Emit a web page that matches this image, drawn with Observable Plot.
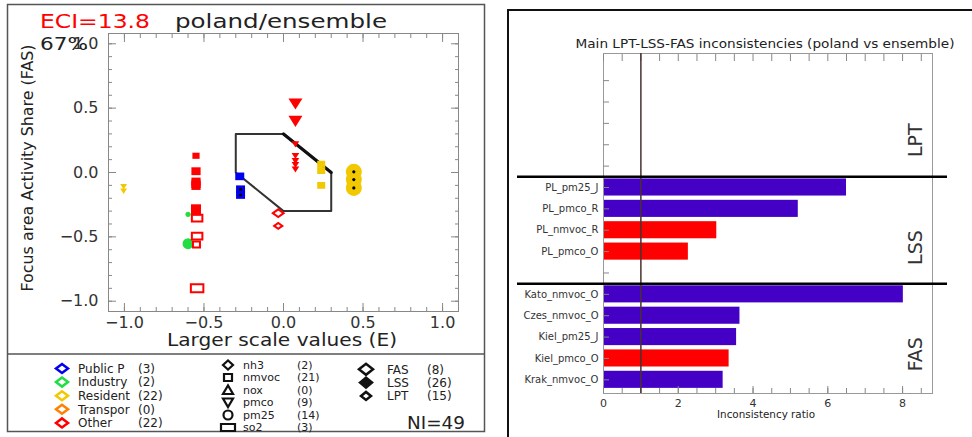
<!DOCTYPE html>
<html><head><meta charset="utf-8">
<script src="https://cdn.jsdelivr.net/npm/d3@7"></script>
<script src="https://cdn.jsdelivr.net/npm/@observablehq/plot@0.6"></script>
<style>
body{margin:0;background:#fff;}
#root{position:relative;width:972px;height:437px;overflow:hidden;font-family:"DejaVu Sans",sans-serif;background:#fff;}
#root > *{position:absolute;}
</style></head><body><div id="root"></div>
<script>
// ---------- legend data ----------
const sectors = ["Public P","Industry","Resident","Transpor","Other"];
const sectorCounts = [3,2,22,0,22];
const pollutants = ["nh3","nmvoc","nox","pmco","pm25","so2"];
const pollutantCounts = [2,21,0,9,14,3];
const types = ["FAS","LSS","LPT"];
const typeCounts = [8,26,15];
const nIndicators = 49;
const eciValue = 13.8;
const fasShareLabel = "67%";

// ---------- scatter data (left panel) ----------
const pointSector = ["Resident","Resident","Resident","Resident","Resident","Resident","Resident","Resident",
  "Other","Other","Other","Other","Other","Other","Other","Other","Other","Other","Other","Other","Other",
  "Other","Other","Other","Other","Other","Other","Other",
  "Industry","Industry","Public P","Public P","Public P"];
const pointPollutant = ["pmco","pmco","nmvoc","nmvoc","nmvoc","pm25","pm25","pm25",
  "nmvoc","nmvoc","nmvoc","nmvoc","nmvoc","nmvoc","nmvoc","so2","so2","nmvoc","so2","nh3","nh3",
  "pmco","pmco","pmco","pmco","pmco","pmco","pmco",
  "pm25","pm25","nmvoc","nmvoc","nmvoc"];
const pointType = ["LSS","LSS","LSS","LSS","LSS","LPT","LPT","LPT",
  "LSS","LSS","LSS","LSS","LSS","LSS","LSS","FAS","FAS","FAS","FAS","FAS","FAS",
  "LSS","LSS","LSS","LSS","LSS","LSS","LSS",
  "LSS","LSS","LSS","LPT","LPT"];
const pointE = [-1.005,-1.005,0.237,0.237,0.237,0.442,0.442,0.442,
  -0.55,-0.55,-0.55,-0.55,-0.55,-0.55,-0.55,-0.543,-0.543,-0.547,-0.543,-0.033,-0.033,
  0.075,0.075,0.075,0.075,0.075,0.075,0.075,
  -0.60,-0.60,-0.275,-0.27,-0.27];
const pointFAS = [-0.11,-0.145,0.065,0.015,-0.10,0.005,-0.055,-0.12,
  0.13,0.01,-0.07,-0.09,-0.105,-0.28,-0.30,-0.355,-0.495,-0.56,-0.90,-0.316,-0.415,
  0.535,0.40,0.22,0.13,0.09,0.06,0.025,
  -0.325,-0.553,-0.03,-0.13,-0.175];
const pointWeight = [3.4,3.4,4,4,4,8,8,8,
  3.6,4.6,4.6,4.6,4.6,5,5,4.2,4.2,3.5,5,4.5,3.4,
  7,7,3.8,3.8,3.8,3.8,3.8,
  2.6,5.5,4.5,4.5,4.5];

// target polygon
const polyE = [-0.3,0,0.3,0.3,0,-0.3,-0.3];
const polyFAS = [0.3,0.3,0,-0.3,-0.3,0,0.3];

// ---------- bar data (right panel) ----------
const sectionNames = ["LPT","LSS","FAS"];
const sectionSlots = [5,5,5];
const barLabels = ["PL_pm25_J","PL_pmco_R","PL_nmvoc_R","PL_pmco_O","Kato_nmvoc_O","Czes_nmvoc_O","Kiel_pm25_J","Kiel_pmco_O","Krak_nmvoc_O"];
const barValues = [6.5,5.21,3.03,2.27,8.02,3.65,3.56,3.36,3.2];
const barSection = ["LSS","LSS","LSS","LSS","FAS","FAS","FAS","FAS","FAS"];
const barSign = ["+","+","-","-","+","+","+","-","+"];
const ratioTicks = [0,2,4,6,8];

// ---------- styles ----------
const sectorColors = ["#0000ee","#22dd44","#f2c800","#ff8000","#ff0000"];
const font = "DejaVu Sans, sans-serif";

// custom symbols (r = half width)
const rad = s => Math.sqrt(s / Math.PI);
const symbols = {
  nh3: {draw(c,s){const r=rad(s); c.moveTo(-1.2*r,0); c.lineTo(0,-0.85*r); c.lineTo(1.2*r,0); c.lineTo(0,0.85*r); c.closePath();}},
  nmvoc: {draw(c,s){const r=rad(s); c.rect(-r,-0.85*r,2*r,1.7*r);}},
  nox: {draw(c,s){const r=rad(s); c.moveTo(-r,0.75*r); c.lineTo(r,0.75*r); c.lineTo(0,-0.85*r); c.closePath();}},
  pmco: {draw(c,s){const r=rad(s); c.moveTo(-r,-0.75*r); c.lineTo(r,-0.75*r); c.lineTo(0,0.85*r); c.closePath();}},
  pm25: {draw(c,s){const r=rad(s); c.moveTo(r,0); c.arc(0,0,r,0,2*Math.PI);}},
  so2: {draw(c,s){const r=rad(s); c.rect(-1.25*r,-0.8*r,2.5*r,1.6*r);}}
};

const points = pointE.map((e,i)=>({E:e, FAS:pointFAS[i], sector:pointSector[i], pollutant:pointPollutant[i], type:pointType[i], w:pointWeight[i]}));
const poly = polyE.map((e,i)=>({E:e, FAS:polyFAS[i]}));

const major = [-1,-0.5,0,0.5,1];
const minor = d3.range(-10,11).map(i=>i/10);
const fmt = d3.format(".1f");
const tickStroke = "#888";

const left = Plot.plot({
  width: 480, height: 354,
  marginLeft: 108, marginRight: 22, marginTop: 33, marginBottom: 43,
  x: {domain: [-1.1, 1.1]},
  y: {domain: [-1.08, 1.08]},
  r: {type: "linear", domain: [0, 10], range: [0, 10]},
  color: {domain: sectors, range: sectorColors},
  symbol: {domain: pollutants, range: pollutants.map(p => symbols[p])},
  style: {background: "transparent", fontFamily: font, color: "#333", overflow: "visible"},
  marks: [
    Plot.frame({stroke: tickStroke}),
    Plot.axisX({anchor:"bottom", ticks: minor, tickSize:-4, tickFormat: ()=>"", stroke: tickStroke, label: null}),
    Plot.axisX({anchor:"bottom", ticks: major, tickSize:-8, tickPadding:13, tickFormat: fmt, stroke: tickStroke, fontSize: 16, label: null}),
    Plot.axisX({anchor:"top", ticks: minor, tickSize:-4, tickFormat: ()=>"", stroke: tickStroke, label: null}),
    Plot.axisX({anchor:"top", ticks: major, tickSize:-8, tickFormat: ()=>"", stroke: tickStroke, label: null}),
    Plot.axisY({anchor:"left", ticks: minor, tickSize:-4, tickFormat: ()=>"", stroke: tickStroke, label: null}),
    Plot.axisY({anchor:"left", ticks: major, tickSize:-8, tickPadding:18, tickFormat: fmt, stroke: tickStroke, fontSize: 16, label: null}),
    Plot.axisY({anchor:"right", ticks: minor, tickSize:-4, tickFormat: ()=>"", stroke: tickStroke, label: null}),
    Plot.axisY({anchor:"right", ticks: major, tickSize:-8, tickFormat: ()=>"", stroke: tickStroke, label: null}),
    Plot.line(poly, {x:"E", y:"FAS", stroke:"#333", strokeWidth:2}),
    Plot.line(poly.slice(1,3), {x:"E", y:"FAS", stroke:"#111", strokeWidth:3.2}),
    Plot.dot(points.filter(d=>d.type!=="FAS"), {x:"E", y:"FAS", r:"w", symbol:"pollutant", fill:"sector", stroke:"none"}),
    Plot.dot(points.filter(d=>d.type==="FAS"), {x:"E", y:"FAS", r:"w", symbol:"pollutant", stroke:"sector", fill:"none", strokeWidth:2}),
    Plot.dot(points.filter(d=>d.type==="LPT"), {x:"E", y:"FAS", r:1.6, fill:"black"})
  ]
});

// right panel data table
let start = 1;
const sectionInfo = sectionNames.map((n,i)=>{const s=start; start += sectionSlots[i]; return {name:n, start:s, center:s+(sectionSlots[i]-1)/2};});
const sectionStart = Object.fromEntries(sectionInfo.map(d=>[d.name,d.start]));
const seen = {};
const bars = barLabels.map((l,i)=>{const sec=barSection[i]; seen[sec]=(seen[sec]||0); const row=sectionStart[sec]+seen[sec]++; return {label:l, value:barValues[i], sign:barSign[i], row};});
const rowLabel = Object.fromEntries(bars.map(d=>[d.row,d.label]));
const rowTicks = d3.range(1, start);
const seps = sectionInfo.slice(1).map(d=>d.start-0.5);
const minorR = d3.range(0, 18).map(i=>i/2);

const right = Plot.plot({
  width: 472, height: 437,
  marginLeft: 103, marginRight: 40, marginTop: 53, marginBottom: 44,
  x: {domain: [0, 8.8]},
  y: {domain: [15.64, -0.27]},
  color: {domain: ["+","-"], range: ["#4400c4","#ff0000"]},
  style: {background: "transparent", fontFamily: font, color: "#333", overflow: "visible"},
  marks: [
    Plot.rect(bars, {x1: 0, x2: "value", y1: d=>d.row-0.4, y2: d=>d.row+0.4, fill: "sign"}),
    Plot.frame({stroke: "#999"}),
    Plot.axisX({anchor:"bottom", ticks: minorR, tickSize:-5, tickFormat: ()=>"", stroke: tickStroke, label:null}),
    Plot.axisX({anchor:"bottom", ticks: ratioTicks, tickSize:-7, tickPadding:13, tickFormat: d3.format("d"), stroke: tickStroke, fontSize: 11, label:null}),
    Plot.axisX({anchor:"top", ticks: minorR, tickSize:-7, tickFormat: ()=>"", stroke: tickStroke, label:null}),
    Plot.axisY({anchor:"left", ticks: rowTicks, tickSize:-6, tickPadding:11, tickFormat: r=>rowLabel[r]||"", stroke: tickStroke, fontSize: 10, label:null}),
    Plot.ruleX([1], {stroke:"#4a3030", strokeWidth:1.5}),
    Plot.ruleY(seps, {stroke:"#000", strokeWidth:2.5, insetLeft:-86, insetRight:-15}),
    Plot.text(sectionInfo, {y:"center", text:"name", frameAnchor:"right", dx:-17, rotate:-90, fontSize:19, fill:"#333"})
  ]
});

const root = document.getElementById("root");
left.style.left = "0px"; left.style.top = "0px";
right.style.left = "500px"; right.style.top = "0px";
root.appendChild(left);
root.appendChild(right);

// ---------- overlay: frames, titles, legend ----------
const ov = d3.select(root).append("svg").attr("width",972).attr("height",437)
  .style("left","0px").style("top","0px").style("font-family",font);
ov.append("rect").attr("x",7.5).attr("y",4.5).attr("width",477).attr("height",427).attr("fill","none").attr("stroke","#555").attr("stroke-width",1.5);
ov.append("line").attr("x1",7.5).attr("x2",484.5).attr("y1",354).attr("y2",354).attr("stroke","#555").attr("stroke-width",1.5);
ov.append("path").attr("d","M508,440V10H975").attr("fill","none").attr("stroke","#111").attr("stroke-width",2);

const T = (x,y,s,size,opts={}) => {
  const t = ov.append("text").attr("x",x).attr("y",y).text(s).attr("font-size",size).attr("fill",opts.fill||"#222");
  if (opts.len) t.attr("textLength",opts.len).attr("lengthAdjust","spacingAndGlyphs");
  if (opts.anchor) t.attr("text-anchor",opts.anchor);
  if (opts.transform) t.attr("transform",opts.transform);
  if (opts.dy) t.attr("dy",opts.dy);
  return t;
};
T(40,28,`ECI=${eciValue}`,19,{fill:"#ff0000",len:110});
T(175,28,"poland/ensemble",19,{len:212});
T(40,50,fasShareLabel,17,{len:48});
T(0,0,"Focus area Activity Share (FAS)",15,{anchor:"middle",len:247,transform:"translate(33,168) rotate(-90)"});
T(282,346,"Larger scale values (E)",17,{anchor:"middle",len:230});
T(765,48,"Main LPT-LSS-FAS inconsistencies (poland vs ensemble)",12,{anchor:"middle",len:379});
T(766,418,"Inconsistency ratio",10,{anchor:"middle",len:98});

// legend column 1: sectors
sectors.forEach((s,i)=>{
  const y = 368.5 + i*13.6;
  ov.append("path").attr("d",`M${56},${y}L62,${y-4.5}L68,${y}L62,${y+4.5}Z`).attr("fill","none").attr("stroke",sectorColors[i]).attr("stroke-width",2.5);
  T(78,y,s,12,{dy:"0.36em"});
  T(138,y,`(${sectorCounts[i]})`,12,{dy:"0.36em"});
});
// column 2: pollutants
const legendSym = {
  nh3: (x,y)=>`M${x-5},${y}L${x},${y-4.5}L${x+5},${y}L${x},${y+4.5}Z`,
  nmvoc: (x,y)=>`M${x-4},${y-3.5}H${x+4}V${y+3.5}H${x-4}Z`,
  nox: (x,y)=>`M${x-5},${y+4}H${x+5}L${x},${y-4.5}Z`,
  pmco: (x,y)=>`M${x-5},${y-4}H${x+5}L${x},${y+4.5}Z`,
  pm25: (x,y)=>`M${x+4.5},${y}A4.5,4.5 0 1 1 ${x-4.5},${y}A4.5,4.5 0 1 1 ${x+4.5},${y}Z`,
  so2: (x,y)=>`M${x-7},${y-3.5}H${x+7}V${y+3.5}H${x-7}Z`
};
pollutants.forEach((p,i)=>{
  const y = 365 + i*12.5;
  ov.append("path").attr("d",legendSym[p](228,y)).attr("fill","none").attr("stroke","#111").attr("stroke-width",2.2);
  T(243,y,p,11,{dy:"0.36em"});
  T(297,y,`(${pollutantCounts[i]})`,11,{dy:"0.36em"});
});
// column 3: types
types.forEach((t,i)=>{
  const y = 369.3 + i*13.3;
  const w = i===0?7:i===1?6:5, h = i===0?5.5:i===1?5:4;
  ov.append("path").attr("d",`M${366-w},${y}L366,${y-h}L${366+w},${y}L366,${y+h}Z`)
    .attr("fill", t==="LSS" ? "#111" : "none").attr("stroke","#111").attr("stroke-width",2.5);
  T(387,y,t,12,{dy:"0.36em"});
  T(427,y,`(${typeCounts[i]})`,12,{dy:"0.36em"});
});
T(407,422.7,`NI=${nIndicators}`,17,{dy:"0.36em",len:58});
</script></body></html>
